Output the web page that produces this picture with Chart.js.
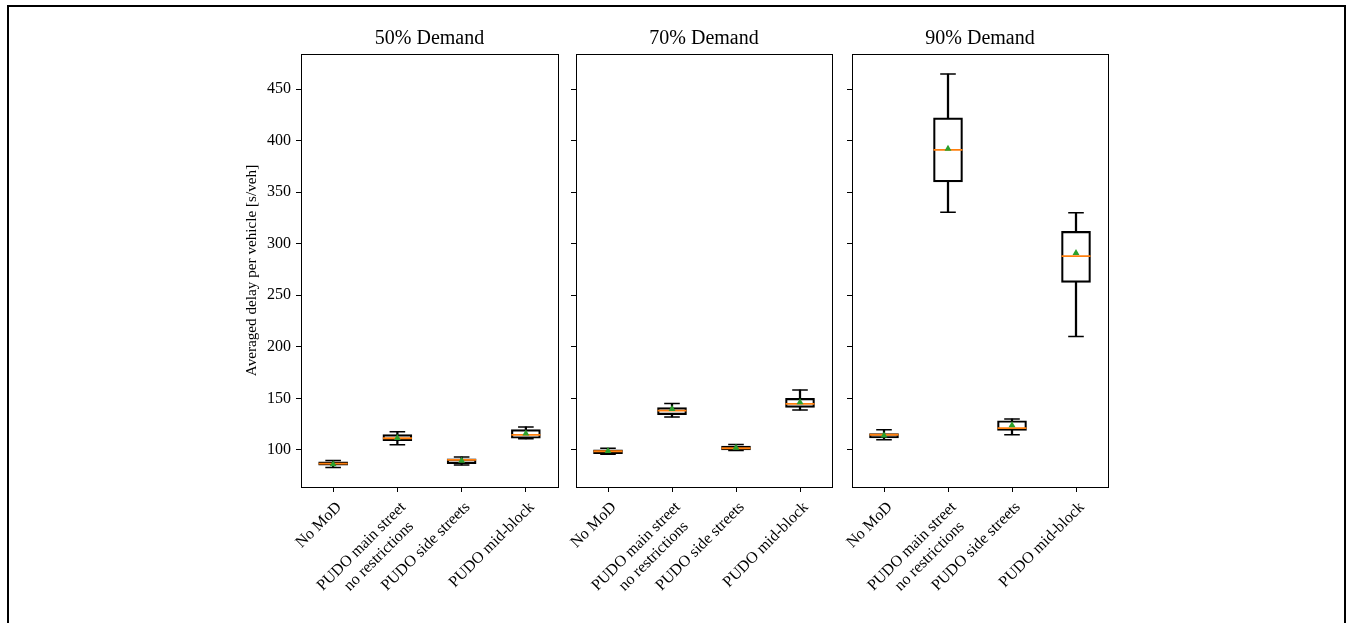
<!DOCTYPE html>
<html>
<head>
<meta charset="utf-8">
<title>Averaged delay per vehicle</title>
<script src="https://cdn.jsdelivr.net/npm/chart.js@4.4.1/dist/chart.umd.min.js"></script>
<style>
    body { margin: 0; background: #fff; overflow: hidden; }
    #frame { position: absolute; left: 7px; top: 5px; width: 1339px; height: 700px; border: 2px solid #000; box-sizing: border-box; }
    canvas { position: absolute; top: 0; }
</style>
</head>
<body>
<div id="frame"></div>
<canvas id="p0" width="327" height="623" style="left:235px"></canvas>
<canvas id="p1" width="274" height="623" style="left:562px"></canvas>
<canvas id="p2" width="274" height="623" style="left:838px"></canvas>
<script>
// trailing spaces: the 2nd line is centred under the 1st in the original
const categories = ['No MoD', ['PUDO main street', 'no restrictions  '], 'PUDO side streets', 'PUDO mid-block'];
const panelTitles = ['50% Demand', '70% Demand', '90% Demand'];
const yTicks = [100, 150, 200, 250, 300, 350, 400, 450];
const yMin = 64;
const yMax = 484;

// one row per panel (50%, 70%, 90% demand), one value per category
const whiskerLow = [
    [82.9, 105.1, 85.4, 110.7],
    [95.8, 132.0, 99.5, 138.8],
    [109.9, 330.5, 114.7, 210.0]
];
const q1 = [
    [85.1, 109.0, 86.7, 111.3],
    [96.4, 134.2, 100.0, 141.3],
    [111.5, 360.0, 119.0, 262.5]
];
const median = [
    [86.7, 111.3, 90.3, 114.5],
    [98.7, 138.1, 101.6, 144.6],
    [114.7, 391.0, 121.2, 288.0]
];
const q3 = [
    [88.4, 114.8, 91.3, 119.7],
    [100.0, 141.0, 103.6, 150.0],
    [115.7, 422.0, 128.3, 312.0]
];
const whiskerHigh = [
    [89.6, 117.7, 93.2, 122.3],
    [101.6, 144.9, 105.2, 158.1],
    [119.6, 464.5, 130.0, 330.0]
];
const mean = [
    [86.0, 111.5, 89.5, 116.0],
    [98.8, 139.7, 102.0, 146.2],
    [114.0, 392.0, 124.0, 291.0]
];

const serif = 'Liberation Serif';
Chart.defaults.color = '#000';
Chart.defaults.font.family = serif;

// matplotlib draws all 4 spines, chart.js only the axis ones
const frameBox = {
    id: 'frameBox',
    afterDatasetsDraw(chart) {
        const a = chart.chartArea;
        const c = chart.ctx;
        c.save();
        c.strokeStyle = '#000';
        c.lineWidth = 1;
        c.strokeRect(Math.round(a.left) + 0.5, Math.round(a.top) + 0.5, Math.round(a.right - a.left), Math.round(a.bottom - a.top));
        c.restore();
    }
};

function capSet(values, ord) {
    return {
        type: 'line', data: values, showLine: false, order: ord,
        pointStyle: 'line', pointRadius: 7.8, pointBorderColor: '#000', pointBorderWidth: 1.5
    };
}

function makePanel(i) {
    const first = i === 0;
    const boxes = q1[i].map((v, k) => [v, q3[i][k]]);
    const lowWhisk = whiskerLow[i].map((v, k) => [v, q1[i][k]]);
    const highWhisk = q3[i].map((v, k) => [v, whiskerHigh[i][k]]);

    new Chart(document.getElementById('p' + i), {
        type: 'bar',
        data: {
            labels: categories,
            datasets: [
                {
                    type: 'line', data: mean[i], showLine: false, order: 0,
                    pointStyle: 'triangle', pointRadius: 4,
                    pointBackgroundColor: '#2ca02c', pointBorderColor: '#2ca02c', pointBorderWidth: 0
                },
                {
                    type: 'line', data: median[i], showLine: false, order: 1,
                    pointStyle: 'line', pointRadius: 14.5, pointBorderColor: '#ff7f0e', pointBorderWidth: 1.8
                },
                capSet(whiskerLow[i], 2),
                capSet(whiskerHigh[i], 2),
                {
                    data: boxes, order: 3, grouped: false, barThickness: 29,
                    backgroundColor: 'rgba(0,0,0,0)', borderColor: '#000', borderWidth: 1.5, borderSkipped: false
                },
                { data: lowWhisk, order: 4, grouped: false, barThickness: 1.6, backgroundColor: '#000', borderWidth: 0 },
                { data: highWhisk, order: 4, grouped: false, barThickness: 1.6, backgroundColor: '#000', borderWidth: 0 }
            ]
        },
        options: {
            responsive: false,
            animation: false,
            events: [],
            // autoPadding would reserve room for the wide median "points"
            layout: { autoPadding: false, padding: { top: 0, right: 4, bottom: 6, left: 0 } },
            plugins: {
                legend: { display: false },
                tooltip: { enabled: false },
                title: {
                    display: true, text: panelTitles[i], fullSize: false, color: '#000',
                    font: { family: serif, size: 20, weight: 'normal' },
                    padding: { top: 27, bottom: 3 }
                }
            },
            scales: {
                x: {
                    grid: { offset: false, drawOnChartArea: false, drawTicks: true, tickLength: 5, tickColor: '#000' },
                    border: { display: false },
                    ticks: {
                        font: { family: serif, size: 16 }, color: '#000', minRotation: 45, maxRotation: 45,
                        padding: 6, labelOffset: 6, autoSkip: false
                    },
                    // fixed height, and no extra side padding for the rotated labels
                    afterFit: s => { s.height = 130; s.paddingLeft = 0; s.paddingRight = 0; }
                },
                y: {
                    min: yMin,
                    max: yMax,
                    afterBuildTicks: s => { s.ticks = yTicks.map(v => ({ value: v })); },
                    grid: { drawOnChartArea: false, drawTicks: true, tickLength: 5, tickColor: '#000' },
                    border: { display: false },
                    ticks: { display: first, font: { family: serif, size: 16 }, color: '#000', padding: 5 },
                    title: {
                        display: first, text: 'Averaged delay per vehicle [s/veh]', color: '#000',
                        font: { family: serif, size: 15.2 }, padding: { top: 8, bottom: 0 }
                    },
                    afterFit: s => { s.width = first ? 66 : 14; }
                }
            }
        },
        plugins: [frameBox]
    });
}

for (let i = 0; i < panelTitles.length; i++) {
    makePanel(i);
}
</script>
</body>
</html>
